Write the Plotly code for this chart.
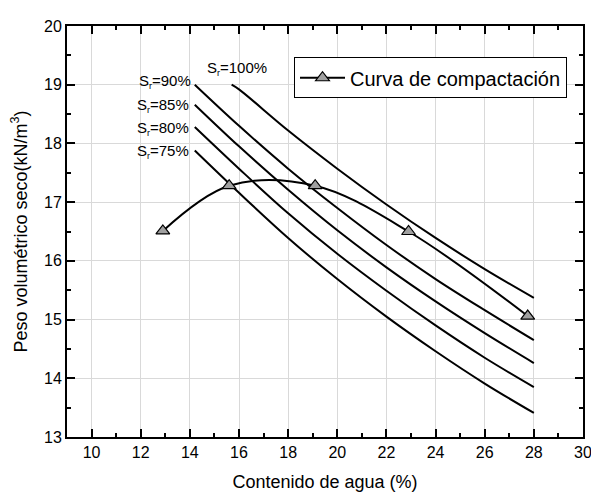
import plotly.graph_objects as go

# Curva de compactacion
w_comp = [12.9, 15.6, 19.1, 22.9, 27.75]
gd_comp = [16.51, 17.28, 17.28, 16.50, 15.06]

# Curvas de saturacion (valores leidos)
w_sat = [14.2, 16, 18, 20, 22, 24, 26, 28]
w_sat100 = [15.7, 16, 18, 20, 22, 24, 26, 28]
gd_100 = [19.00, 18.92, 18.22, 17.57, 16.96, 16.39, 15.86, 15.37]
gd_90 = [19.00, 18.30, 17.57, 16.90, 16.27, 15.69, 15.16, 14.65]
gd_85 = [18.66, 17.95, 17.21, 16.52, 15.89, 15.31, 14.77, 14.26]
gd_80 = [18.28, 17.57, 16.81, 16.12, 15.49, 14.90, 14.35, 13.85]
gd_75 = [17.88, 17.16, 16.39, 15.69, 15.05, 14.46, 13.91, 13.41]

sub_r = "S<sub><span style='font-size:9px'>r</span></sub>"
sat_labels = [sub_r + "=100%", sub_r + "=90%", sub_r + "=85%", sub_r + "=80%", sub_r + "=75%"]

fig = go.Figure()

for xs, ys in [(w_sat100, gd_100), (w_sat, gd_90), (w_sat, gd_85), (w_sat, gd_80), (w_sat, gd_75)]:
    fig.add_trace(go.Scatter(x=xs, y=ys, mode="lines", showlegend=False,
                             line=dict(color="black", width=2, shape="spline")))

fig.add_trace(go.Scatter(
    x=w_comp, y=gd_comp, mode="lines+markers", name="Curva de compactación",
    line=dict(color="black", width=2, shape="spline", smoothing=1.0),
    marker=dict(symbol="triangle-up", size=12, color="#a0a0a0",
                line=dict(color="black", width=1.2)),
))

# etiquetas de saturacion
lab_pos = [(15.9, 19.28, "center"), (14.12, 19.05, "right"), (14.05, 18.65, "right"),
           (14.05, 18.26, "right"), (14.05, 17.86, "right")]
for (lx, ly, anc), txt in zip(lab_pos, sat_labels):
    fig.add_annotation(x=lx, y=ly, text=txt, showarrow=False, xanchor=anc,
                       font=dict(size=15, color="black", family="Arial"))

axis_common = dict(
    showline=True, linecolor="black", linewidth=2, mirror="allticks",
    ticks="inside", ticklen=8, tickwidth=2, tickcolor="black",
    showgrid=True, gridcolor="#d9d9d9", gridwidth=1, zeroline=False,
    tickfont=dict(size=16, color="black", family="Arial"),
)

fig.update_xaxes(range=[9, 30], dtick=2, tick0=10,
                 minor=dict(ticks="inside", ticklen=4, tickwidth=2, tickcolor="black", dtick=1, showgrid=False),
                 title=dict(text="Contenido de agua (%)", font=dict(size=18, color="black", family="Arial"), standoff=15),
                 **axis_common)
fig.update_yaxes(range=[13, 20], dtick=1,
                 minor=dict(ticks="inside", ticklen=4, tickwidth=2, tickcolor="black", dtick=0.5, showgrid=False),
                 title=dict(text="Peso volumétrico seco(kN/m<sup>3</sup>)", font=dict(size=18, color="black", family="Arial"), standoff=13),
                 **axis_common)

fig.update_layout(
    width=599, height=499,
    margin=dict(l=59, r=24, t=10, b=70),
    plot_bgcolor="white", paper_bgcolor="white",
    font=dict(family="Arial", color="black"),
    legend=dict(x=0.969, y=0.924, xanchor="right", yanchor="top", itemwidth=45,
                bordercolor="black", borderwidth=1, bgcolor="white",
                font=dict(size=20, color="black", family="Arial")),
)

fig.write_html("out.html")
